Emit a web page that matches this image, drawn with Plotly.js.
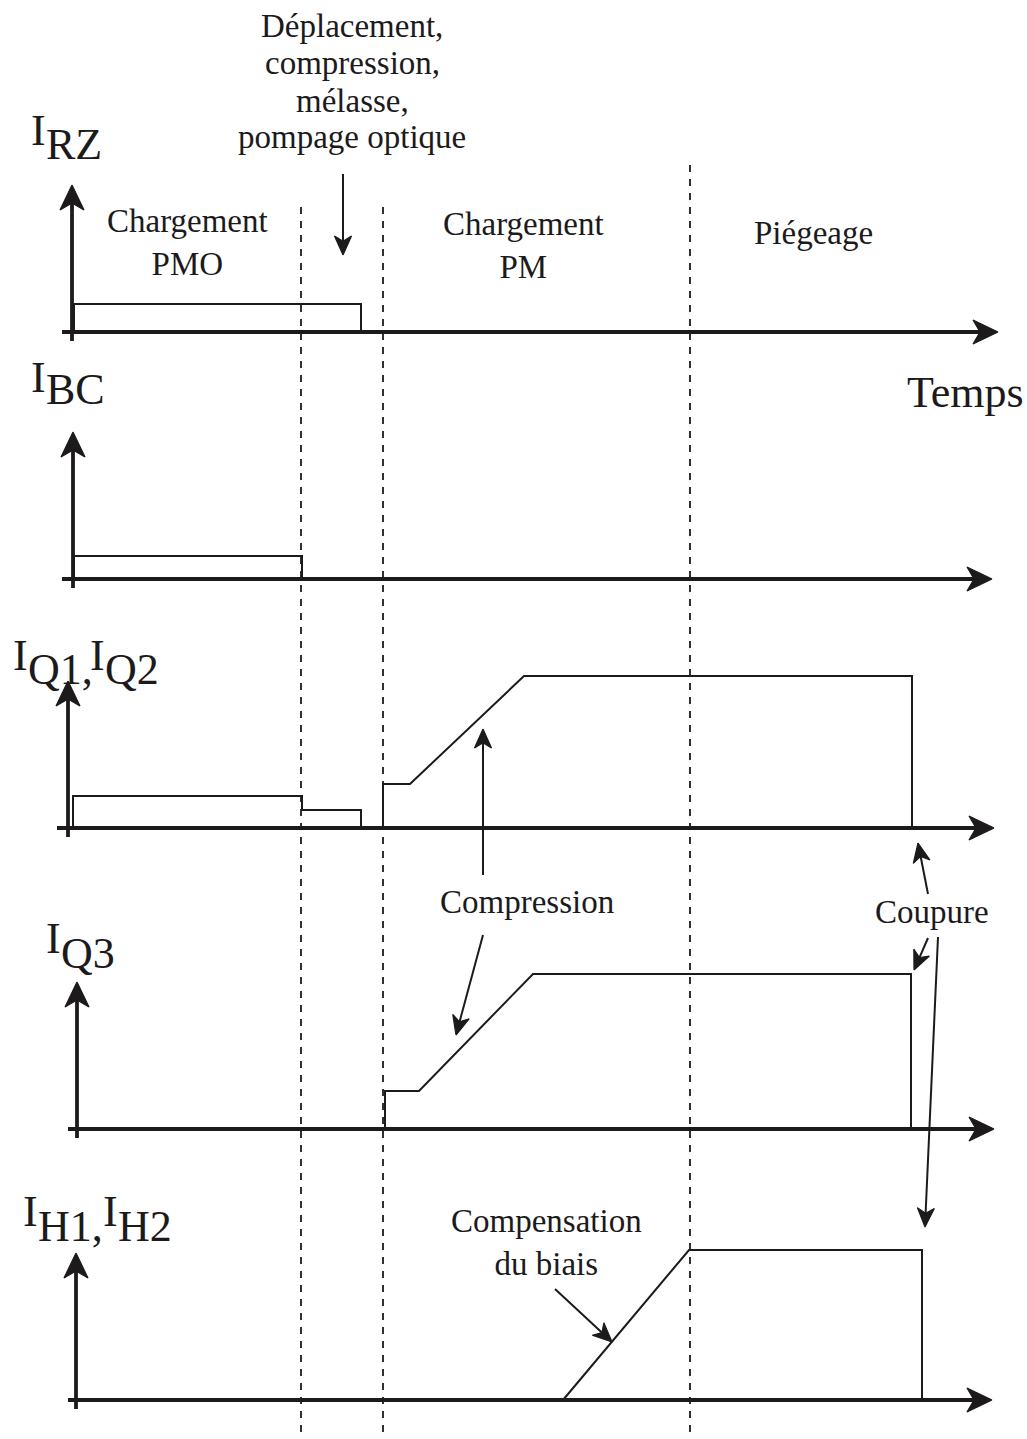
<!DOCTYPE html>
<html>
<head>
<meta charset="utf-8">
<script src="https://cdn.plot.ly/plotly-3.0.1.min.js"></script>
<style>html,body{margin:0;padding:0;background:#fff;}#chart{width:1027px;height:1439px;}</style>
</head>
<body>
<div id="chart"></div>
<script>
// ---------- DATA (time in arbitrary units, currents in arbitrary units) ----------
const phaseBoundaries = [229, 311, 618];

const tRZ = [2, 2, 289, 289];
const iRZ = [0, 28, 28, 0];

const tBC = [2, 2, 230, 230];
const iBC = [0, 23, 23, 0];

const tQ12 = [1, 1, 230, 230, 289, 289, 311, 311, 338, 452, 840, 840];
const iQ12 = [0, 32, 32, 18, 18, 0, 0, 44, 44, 152, 152, 0];

const tQ3 = [313, 313, 347, 461, 839, 839];
const iQ3 = [0, 38, 38, 155, 155, 0];

const tH = [491, 617, 850, 850];
const iH = [0, 150, 150, 0];

const phaseLabels = ["Chargement<br>PMO", "Chargement<br>PM", "Piégeage"];
const transitionLabel = ["Déplacement,", "compression,", "mélasse,", "pompage optique"];

// ---------- LAYOUT ----------
const W = 1027, H = 1439;
const INK = '#1c1a1b';
const FONT = 'Liberation Serif, Times New Roman, serif';
const baselines = [332, 579, 828, 1129, 1400];     // pixel row of each time axis
const yAxisPx = [72, 73, 68, 77, 76];               // pixel column of each vertical axis
const hAxisStartPx = [62, 62, 57, 68, 68];
const hAxisEndPx = [998, 992, 994, 994, 992];
const vAxisTop = 147, vAxisBottom = -9;
const X0 = 72;
const px2t = p => p - X0;
const pxX = p => p / W;
const pxY = p => 1 - p / H;

const series = [[tRZ, iRZ], [tBC, iBC], [tQ12, iQ12], [tQ3, iQ3], [tH, iH]];

const layout = {
  width: W, height: H,
  margin: {l: 0, r: 0, t: 0, b: 0},
  paper_bgcolor: '#fff', plot_bgcolor: 'rgba(0,0,0,0)',
  showlegend: false,
  xaxis: {range: [px2t(0), px2t(W)], domain: [0, 1], visible: false, fixedrange: true},
  // overlay in page pixels for decorative pointer arrows
  xaxis2: {range: [0, W], domain: [0, 1], visible: false, fixedrange: true, anchor: 'y6'},
  yaxis6: {range: [H, 0], domain: [0, 1], visible: false, fixedrange: true, anchor: 'x2'},
  shapes: [], annotations: []
};

const traces = [];

// arrow: line shape + filled notched head drawn as a filled polygon trace
function arrowShape(xa, ya, x0, y0, x1, y1, L, w, lw) {
  const dx = x1 - x0, dy = y1 - y0, len = Math.hypot(dx, dy);
  const ux = dx / len, uy = dy / len, nx = -uy, ny = ux;
  const notch = 0.72;
  const P = (ax, ay) => [x1 + ax, y1 + ay];
  const lx = -ux * L * notch, ly = -uy * L * notch;
  const e = P(lx + ux * 2, ly + uy * 2);
  const xr = xa === 'x' ? 'x' : 'x2';
  layout.shapes.push({type: 'line', xref: xr, yref: ya, x0: x0, y0: y0, x1: e[0], y1: e[1],
    line: {color: INK, width: lw}, layer: 'above'});
  const pts = [
    P(0, 0),
    P(-ux * L + nx * w, -uy * L + ny * w),
    P(lx, ly),
    P(-ux * L - nx * w, -uy * L - ny * w),
    P(0, 0)
  ];
  traces.push({
    x: pts.map(p => p[0]), y: pts.map(p => p[1]), xaxis: xa, yaxis: ya,
    type: 'scatter', mode: 'lines', fill: 'toself', fillcolor: INK,
    line: {color: INK, width: 1.2}, hoverinfo: 'skip'
  });
}

series.forEach((s, k) => {
  const ax = k === 0 ? 'y' : 'y' + (k + 1);
  const lk = k === 0 ? 'yaxis' : 'yaxis' + (k + 1);
  const B = baselines[k];
  layout[lk] = {
    domain: [1 - (B + 30) / H, 1 - (B - 200) / H],
    range: [-30, 200], visible: false, fixedrange: true
  };
  traces.push({
    x: s[0], y: s[1], xaxis: 'x', yaxis: ax, type: 'scatter', mode: 'lines',
    line: {color: INK, width: 2, shape: 'linear'}, hoverinfo: 'skip'
  });
  // time axis (data coords: 1 unit = 1 px on both axes)
  arrowShape('x', ax, px2t(hAxisStartPx[k]), 0, px2t(hAxisEndPx[k]), 0, 25, 12, 3.8);
  // current axis
  arrowShape('x', ax, px2t(yAxisPx[k]), vAxisBottom, px2t(yAxisPx[k]), vAxisTop, 25, 12, 3.8);
});

// phase boundaries (dashed)
const dashTops = [207, 207, 165];
phaseBoundaries.forEach((t, i) => {
  layout.shapes.push({
    type: 'line', xref: 'x', yref: 'paper', x0: t, x1: t, y0: pxY(dashTops[i]), y1: 0,
    line: {color: INK, width: 1.8, dash: '7px,7px'}, layer: 'below'
  });
});

function txt(s, x, y, size, xanchor) {
  layout.annotations.push({
    xref: 'paper', yref: 'paper', x: pxX(x), y: pxY(y), text: s, showarrow: false,
    xanchor: xanchor || 'center', yanchor: 'middle', borderpad: 0,
    font: {family: FONT, size: size, color: INK}
  });
}
function arrow(x0, y0, x1, y1) {
  arrowShape('x2', 'y6', x0, y0, x1, y1, 19, 8.5, 2);
}

// axis labels (I with same-size lowered subscripts)
const LBL = 44;
const iw = 0.333 * LBL;
txt('I', 30, 130, LBL, 'left'); txt('RZ', 30 + iw, 144, LBL, 'left');
txt('I', 30, 377, LBL, 'left'); txt('BC', 30 + iw, 390, LBL, 'left');
txt('I', 12, 655, LBL, 'left'); txt('Q1,', 12 + iw, 669, LBL, 'left');
txt('I', 89, 655, LBL, 'left'); txt('Q2', 89 + iw, 669, LBL, 'left');
txt('I', 45, 939, LBL, 'left'); txt('Q3', 45 + iw, 953, LBL, 'left');
txt('I', 22, 1211, LBL, 'left'); txt('H1,', 22 + iw, 1226, LBL, 'left');
txt('I', 102, 1211, LBL, 'left'); txt('H2', 102 + iw, 1226, LBL, 'left');
txt('Temps', 965, 393, 44);

// transition label block
const tlY = [26, 63, 101, 137];
transitionLabel.forEach((s, i) => txt(s, 352, tlY[i], 33));
arrow(343, 174, 343, 255);

// phase labels
txt(phaseLabels[0], 187, 242, 33);
txt(phaseLabels[1], 523, 245, 33);
txt(phaseLabels[2], 813, 233, 33);

// other annotations
txt('Compression', 527, 902, 33);
arrow(483, 875, 483, 729);
arrow(483, 935, 456, 1035);
txt('Coupure', 932, 912, 33);
arrow(928, 894, 918, 843);
arrow(928, 938, 914, 970);
arrow(938, 937, 925, 1227);
txt('Compensation<br>du biais', 546, 1242, 33);
arrow(555, 1289, 612, 1342);

Plotly.newPlot('chart', traces, layout, {staticPlot: true, displayModeBar: false});
</script>
</body>
</html>
